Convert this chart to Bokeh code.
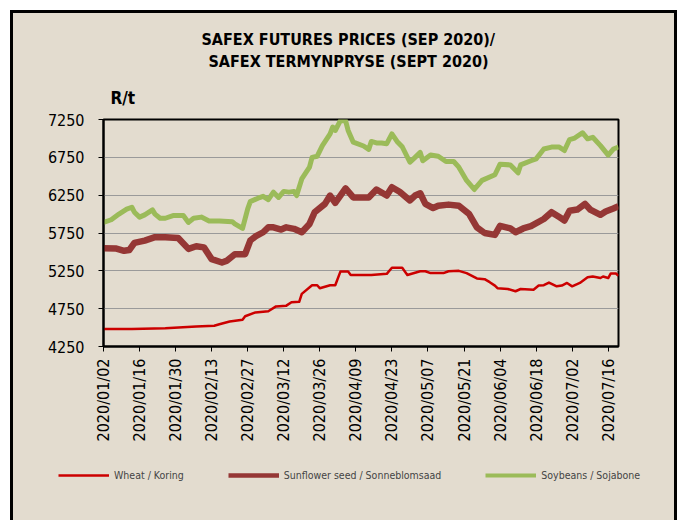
import pandas as pd
from bokeh.plotting import figure
from bokeh.layouts import column, row
from bokeh.models import (DatetimeTickFormatter, FixedTicker, Legend, LegendItem,
                          Range1d, Title)
from bokeh.embed import file_html
from bokeh.resources import INLINE

# ---------------- data ----------------
title_lines = ["SAFEX FUTURES PRICES (SEP 2020)/", "SAFEX TERMYNPRYSE (SEPT 2020)"]
y_unit = "R/t"
series_names = ["Wheat / Koring", "Sunflower seed / Sonneblomsaad", "Soybeans / Sojabone"]
x_tick_labels = ["2020/01/02", "2020/01/16", "2020/01/30", "2020/02/13", "2020/02/27",
                 "2020/03/12", "2020/03/26", "2020/04/09", "2020/04/23", "2020/05/07",
                 "2020/05/21", "2020/06/04", "2020/06/18", "2020/07/02", "2020/07/16"]
y_ticks = [4250, 4750, 5250, 5750, 6250, 6750, 7250]
x_start, x_end = "2020-01-02", "2020-07-20"

wheat_dates = ["2020-01-02", "2020-01-13", "2020-01-26", "2020-02-07", "2020-02-14",
               "2020-02-16", "2020-02-20", "2020-02-25", "2020-02-26", "2020-03-01",
               "2020-03-06", "2020-03-09", "2020-03-13", "2020-03-15", "2020-03-18",
               "2020-03-19", "2020-03-23", "2020-03-25", "2020-03-26", "2020-03-30",
               "2020-04-01", "2020-04-03", "2020-04-06", "2020-04-07", "2020-04-12",
               "2020-04-15", "2020-04-21", "2020-04-23", "2020-04-27", "2020-04-29",
               "2020-05-04", "2020-05-06", "2020-05-08", "2020-05-13", "2020-05-15",
               "2020-05-19", "2020-05-22", "2020-05-26", "2020-05-29", "2020-05-31",
               "2020-06-02", "2020-06-03", "2020-06-07", "2020-06-10", "2020-06-12",
               "2020-06-17", "2020-06-19", "2020-06-21", "2020-06-23", "2020-06-26",
               "2020-06-28", "2020-06-30", "2020-07-02", "2020-07-05", "2020-07-08",
               "2020-07-10", "2020-07-13", "2020-07-14", "2020-07-16", "2020-07-17",
               "2020-07-19", "2020-07-20"]
wheat_prices = [4480, 4480, 4490, 4515, 4525,
                4545, 4580, 4605, 4650, 4700,
                4715, 4780, 4790, 4835, 4840,
                4945, 5060, 5060, 5020, 5060,
                5060, 5240, 5240, 5195, 5195,
                5195, 5210, 5290, 5290, 5195,
                5245, 5245, 5220, 5220, 5245,
                5250, 5220, 5150, 5140, 5100,
                5055, 5020, 5010, 4980, 5010,
                5000, 5055, 5060, 5095, 5045,
                5055, 5090, 5045, 5090, 5165,
                5175, 5155, 5175, 5155, 5215,
                5215, 5185]

sunflower_dates = ["2020-01-02", "2020-01-07", "2020-01-10", "2020-01-12", "2020-01-14",
                   "2020-01-18", "2020-01-22", "2020-01-26", "2020-01-31", "2020-02-04",
                   "2020-02-07", "2020-02-10", "2020-02-13", "2020-02-17", "2020-02-19",
                   "2020-02-22", "2020-02-26", "2020-02-28", "2020-03-01", "2020-03-04",
                   "2020-03-06", "2020-03-08", "2020-03-11", "2020-03-13", "2020-03-16",
                   "2020-03-19", "2020-03-22", "2020-03-24", "2020-03-28", "2020-03-30",
                   "2020-04-01", "2020-04-03", "2020-04-05", "2020-04-08", "2020-04-12",
                   "2020-04-14", "2020-04-17", "2020-04-21", "2020-04-23", "2020-04-26",
                   "2020-04-30", "2020-05-02", "2020-05-04", "2020-05-06", "2020-05-09",
                   "2020-05-11", "2020-05-15", "2020-05-19", "2020-05-23", "2020-05-26",
                   "2020-05-29", "2020-06-02", "2020-06-04", "2020-06-08", "2020-06-10",
                   "2020-06-13", "2020-06-16", "2020-06-21", "2020-06-24", "2020-06-27",
                   "2020-06-29", "2020-07-01", "2020-07-04", "2020-07-07", "2020-07-09",
                   "2020-07-13", "2020-07-15", "2020-07-18", "2020-07-20"]
sunflower_prices = [5550, 5545, 5515, 5525, 5620,
                    5650, 5695, 5695, 5685, 5540,
                    5575, 5560, 5405, 5360, 5385,
                    5470, 5470, 5650, 5705, 5760,
                    5825, 5825, 5795, 5825, 5805,
                    5760, 5870, 6025, 6135, 6245,
                    6150, 6245, 6340, 6220, 6220,
                    6220, 6325, 6245, 6355, 6295,
                    6180, 6245, 6275, 6135, 6080,
                    6110, 6125, 6110, 6000, 5825,
                    5750, 5725, 5845, 5810, 5760,
                    5810, 5840, 5935, 6025, 5960,
                    5915, 6045, 6060, 6135, 6060,
                    5990, 6035, 6075, 6105]

soybean_dates = ["2020-01-02", "2020-01-05", "2020-01-08", "2020-01-11", "2020-01-13",
                 "2020-01-14", "2020-01-16", "2020-01-18", "2020-01-21", "2020-01-22",
                 "2020-01-24", "2020-01-26", "2020-01-29", "2020-02-02", "2020-02-04",
                 "2020-02-06", "2020-02-09", "2020-02-12", "2020-02-16", "2020-02-21",
                 "2020-02-22", "2020-02-25", "2020-02-27", "2020-02-28", "2020-03-02",
                 "2020-03-04", "2020-03-06", "2020-03-08", "2020-03-10", "2020-03-12",
                 "2020-03-14", "2020-03-16", "2020-03-17", "2020-03-19", "2020-03-22",
                 "2020-03-23", "2020-03-25", "2020-03-27", "2020-03-30", "2020-03-31",
                 "2020-04-01", "2020-04-03", "2020-04-05", "2020-04-06", "2020-04-08",
                 "2020-04-12", "2020-04-14", "2020-04-15", "2020-04-17", "2020-04-19",
                 "2020-04-21", "2020-04-23", "2020-04-25", "2020-04-27", "2020-04-30",
                 "2020-05-02", "2020-05-04", "2020-05-05", "2020-05-08", "2020-05-11",
                 "2020-05-14", "2020-05-17", "2020-05-19", "2020-05-22", "2020-05-25",
                 "2020-05-28", "2020-06-02", "2020-06-04", "2020-06-08", "2020-06-11",
                 "2020-06-12", "2020-06-16", "2020-06-18", "2020-06-21", "2020-06-24",
                 "2020-06-27", "2020-06-29", "2020-07-01", "2020-07-03", "2020-07-06",
                 "2020-07-08", "2020-07-10", "2020-07-13", "2020-07-16", "2020-07-18",
                 "2020-07-20"]
soybean_prices = [5890, 5925, 6000, 6065, 6090,
                  6025, 5960, 5990, 6055, 6000,
                  5945, 5945, 5980, 5980, 5890,
                  5945, 5960, 5910, 5910, 5900,
                  5870, 5810, 6070, 6165, 6210,
                  6235, 6190, 6290, 6220, 6300,
                  6290, 6300, 6245, 6465, 6620,
                  6750, 6765, 6905, 7060, 7150,
                  7105, 7235, 7235, 7105, 6950,
                  6900, 6855, 6960, 6940, 6940,
                  6930, 7060, 6960, 6890, 6685,
                  6750, 6815, 6705, 6780, 6765,
                  6695, 6695, 6620, 6445, 6325,
                  6445, 6520, 6660, 6650, 6545,
                  6650, 6705, 6730, 6860, 6885,
                  6885, 6840, 6985, 7005, 7075,
                  6995, 7015, 6905, 6780, 6860,
                  6885]

# ---------------- styling ----------------
BG = "#e3dccf"
FONT = "DejaVu Sans Condensed"
W, H = 661, 447           # main chart canvas
LH = 60                   # legend strip canvas height
ML, MR, MT = 90, 56, 106
MB = H - MT - 227

p = figure(width=W, height=H, x_axis_type="datetime", output_backend="svg",
           toolbar_location=None,
           x_range=Range1d(pd.Timestamp(x_start), pd.Timestamp(x_end)),
           y_range=Range1d(y_ticks[0], y_ticks[-1]),
           min_border_left=ML, min_border_right=MR, min_border_top=MT,
           min_border_bottom=MB)
p.background_fill_color = BG
p.border_fill_color = BG
p.outline_line_color = "black"
p.outline_line_width = 2

colors = ["#cc0000", "#953735", "#9bbb59"]
widths = [2.5, 6.5, 5]
key_widths = [2.5, 4.5, 4]
series = [(wheat_dates, wheat_prices), (sunflower_dates, sunflower_prices),
          (soybean_dates, soybean_prices)]
for (d, v), c, w in zip(series, colors, widths):
    p.line(pd.to_datetime(d), v, line_color=c, line_width=w, line_join="round")

# axes
tick_ms = [pd.Timestamp(t.replace("/", "-")).value // 10**6 for t in x_tick_labels]
p.xaxis.ticker = FixedTicker(ticks=tick_ms)
fmt = "%Y/%m/%d"
p.xaxis.formatter = DatetimeTickFormatter(days=fmt, months=fmt, years=fmt, hours=fmt,
                                          hourmin=fmt, minutes=fmt, minsec=fmt,
                                          seconds=fmt, milliseconds=fmt,
                                          microseconds=fmt)
p.xaxis.major_label_orientation = 3.14159265 / 2
p.yaxis.ticker = FixedTicker(ticks=y_ticks)
for ax in (p.xaxis, p.yaxis):
    ax.axis_line_color = "black"
    ax.axis_line_width = 2
    ax.major_tick_line_color = "black"
    ax.major_tick_line_width = 1
    ax.major_tick_out = 5
    ax.major_tick_in = 0
    ax.minor_tick_line_color = None
    ax.major_label_text_font = FONT
    ax.major_label_text_font_size = "16px"
    ax.major_label_text_color = "black"
p.yaxis.major_label_standoff = 14
p.xaxis.major_label_standoff = 7

p.xgrid.grid_line_color = None
p.ygrid.grid_line_color = "#9a9a9a"
p.ygrid.grid_line_width = 1
p.ygrid.ticker = FixedTicker(ticks=y_ticks)

# titles: added from the frame outward
def make_title(text, offset, standoff, size):
    kw = dict(text=text, align="left", offset=offset, text_font=FONT,
              text_font_style="bold", text_font_size=size, text_color="black")
    try:
        return Title(standoff=standoff, **kw)
    except Exception:
        return Title(standoff=0, **kw)

p.add_layout(make_title(y_unit, 7, 24, "17px"), "above")
p.add_layout(make_title(title_lines[1], 105, 5, "16px"), "above")
p.add_layout(make_title(title_lines[0], 98, -3, "16px"), "above")

# legend strip (its own small canvas below the chart, same background)
lg = figure(width=W, height=LH, output_backend="svg", toolbar_location=None,
            x_range=Range1d(0, 1), y_range=Range1d(0, 1),
            x_axis_location=None, y_axis_location=None,
            min_border_left=0, min_border_right=0, min_border_top=0, min_border_bottom=0)
lg.background_fill_color = BG
lg.border_fill_color = BG
lg.outline_line_color = None
lg.grid.visible = False
nan = float("nan")
keys = [lg.line(x=[nan], y=[nan], line_color=c, line_width=w)
        for c, w in zip(colors, key_widths)]
legend = Legend(items=[LegendItem(label=n, renderers=[r]) for n, r in zip(series_names, keys)],
                orientation="horizontal", location=(45, 37), spacing=44,
                glyph_width=51, glyph_height=16, label_standoff=5, padding=0, margin=0,
                background_fill_alpha=0, border_line_alpha=0,
                label_text_font=FONT, label_text_font_size="10.5px")
lg.add_layout(legend)

page = column(p, row(lg), spacing=0,
              styles={"border-left": "3px solid black", "border-top": "3px solid black",
                      "border-right": "3px solid black", "margin-left": "10px",
                      "margin-top": "10px", "background-color": BG,
                      "box-sizing": "border-box"})

open("out.html", "w").write(file_html(page, INLINE))
